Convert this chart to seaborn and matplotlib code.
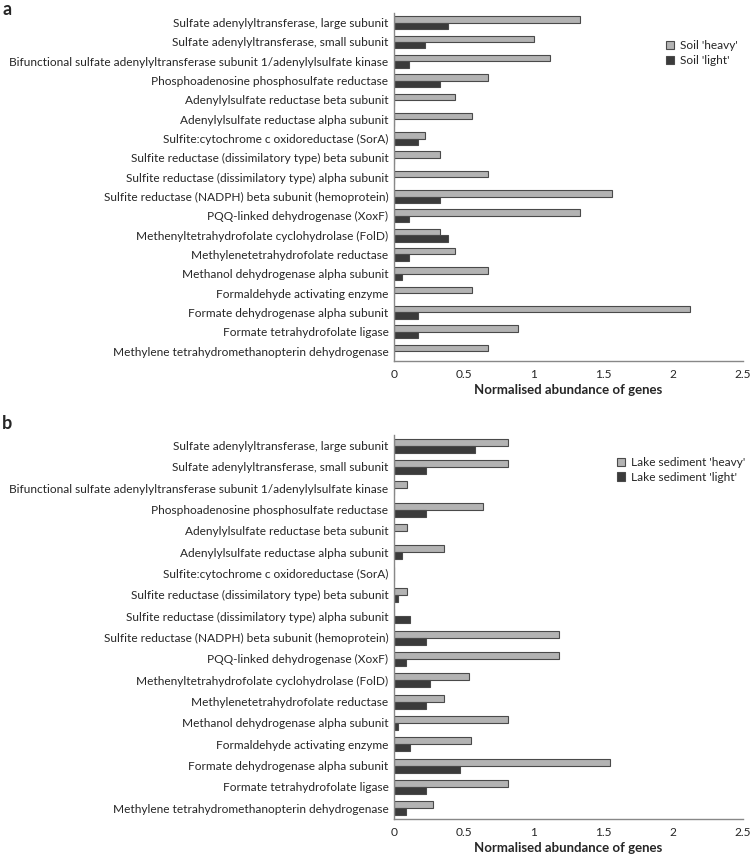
import numpy as np
import pandas as pd
import seaborn as sns
from matplotlib import pyplot as plt

genes = [
    "Sulfate adenylyltransferase, large subunit",
    "Sulfate adenylyltransferase, small subunit",
    "Bifunctional sulfate adenylyltransferase subunit 1/adenylylsulfate kinase",
    "Phosphoadenosine phosphosulfate reductase",
    "Adenylylsulfate reductase beta subunit",
    "Adenylylsulfate reductase alpha subunit",
    "Sulfite:cytochrome c oxidoreductase (SorA)",
    "Sulfite reductase (dissimilatory type) beta subunit",
    "Sulfite reductase (dissimilatory type) alpha subunit",
    "Sulfite reductase (NADPH) beta subunit (hemoprotein)",
    "PQQ-linked dehydrogenase (XoxF)",
    "Methenyltetrahydrofolate cyclohydrolase (FolD)",
    "Methylenetetrahydrofolate reductase",
    "Methanol dehydrogenase alpha subunit",
    "Formaldehyde activating enzyme",
    "Formate dehydrogenase alpha subunit",
    "Formate tetrahydrofolate ligase",
    "Methylene tetrahydromethanopterin dehydrogenase",
]

soil_heavy = [1.33, 1.00, 1.12, 0.67, 0.44, 0.56, 0.22, 0.33, 0.67,
              1.56, 1.33, 0.33, 0.44, 0.67, 0.56, 2.12, 0.89, 0.67]
soil_light = [0.39, 0.22, 0.11, 0.33, 0.0, 0.0, 0.17, 0.0, 0.0,
              0.33, 0.11, 0.39, 0.11, 0.06, 0.0, 0.17, 0.17, 0.0]

lake_heavy = [0.82, 0.82, 0.09, 0.64, 0.09, 0.36, 0.0, 0.09, 0.0,
              1.18, 1.18, 0.54, 0.36, 0.82, 0.55, 1.55, 0.82, 0.28]
lake_light = [0.58, 0.23, 0.0, 0.23, 0.0, 0.06, 0.0, 0.03, 0.115,
              0.23, 0.085, 0.26, 0.23, 0.03, 0.115, 0.47, 0.23, 0.085]

sns.set_style("white")
plt.rcParams['font.family'] = ['Lato', 'DejaVu Sans']

fig = plt.figure(figsize=(7.52, 8.63), dpi=100)
ax_a = fig.add_axes([0.524, 0.582, 0.464, 0.403])
ax_b = fig.add_axes([0.524, 0.051, 0.464, 0.445])

panels = [
    (ax_a, soil_heavy, soil_light, "Soil 'heavy'", "Soil 'light'", "a", (0.765, 0.935)),
    (ax_b, lake_heavy, lake_light, "Lake sediment 'heavy'", "Lake sediment 'light'", "b", (0.625, 0.955)),
]

for ax, heavy, light, lab_h, lab_l, letter, legpos in panels:
    df = pd.DataFrame({
        "gene": genes * 2,
        "value": heavy + light,
        "sample": [lab_h] * len(genes) + [lab_l] * len(genes),
    })
    sns.barplot(data=df, x="value", y="gene", hue="sample", orient="h",
                palette=["#b3b3b3", "#3b3b3b"], width=0.66, ax=ax,
                edgecolor="#4a4a4a", linewidth=0.8, errorbar=None)
    ax.set_xlim(0, 2.5)
    ax.set_xticks([0, 0.5, 1, 1.5, 2, 2.5])
    ax.set_xticklabels(["0", "0.5", "1", "1.5", "2", "2.5"], fontsize=8.6)
    ax.set_ylabel("")
    ax.set_xlabel("Normalised abundance of genes", fontsize=9.5, fontweight="bold", labelpad=3)
    ax.tick_params(axis="y", labelsize=8.6, length=0, pad=4)
    ax.tick_params(axis="x", direction="out", length=4, width=0.8, color="#888888", pad=2)
    ax.set_yticks(np.arange(-0.5, len(genes), 1), minor=True)
    ax.tick_params(axis="y", which="minor", length=3, color="#888888", direction="out")
    for side in ["top", "right"]:
        ax.spines[side].set_visible(False)
    for side in ["left", "bottom"]:
        ax.spines[side].set_color("#888888")
        ax.spines[side].set_linewidth(1.0)
    ax.legend(loc="upper left", bbox_to_anchor=legpos, frameon=False, fontsize=8.6,
              handlelength=0.7, handleheight=0.7, handletextpad=0.5, labelspacing=0.3,
              borderaxespad=0)

fig.text(0.003, 0.999, "a", fontsize=13, fontweight="bold", va="top", ha="left")
fig.text(0.003, 0.500, "b", fontsize=13, fontweight="bold", va="bottom", ha="left")

fig.savefig("out.png", dpi=100)
